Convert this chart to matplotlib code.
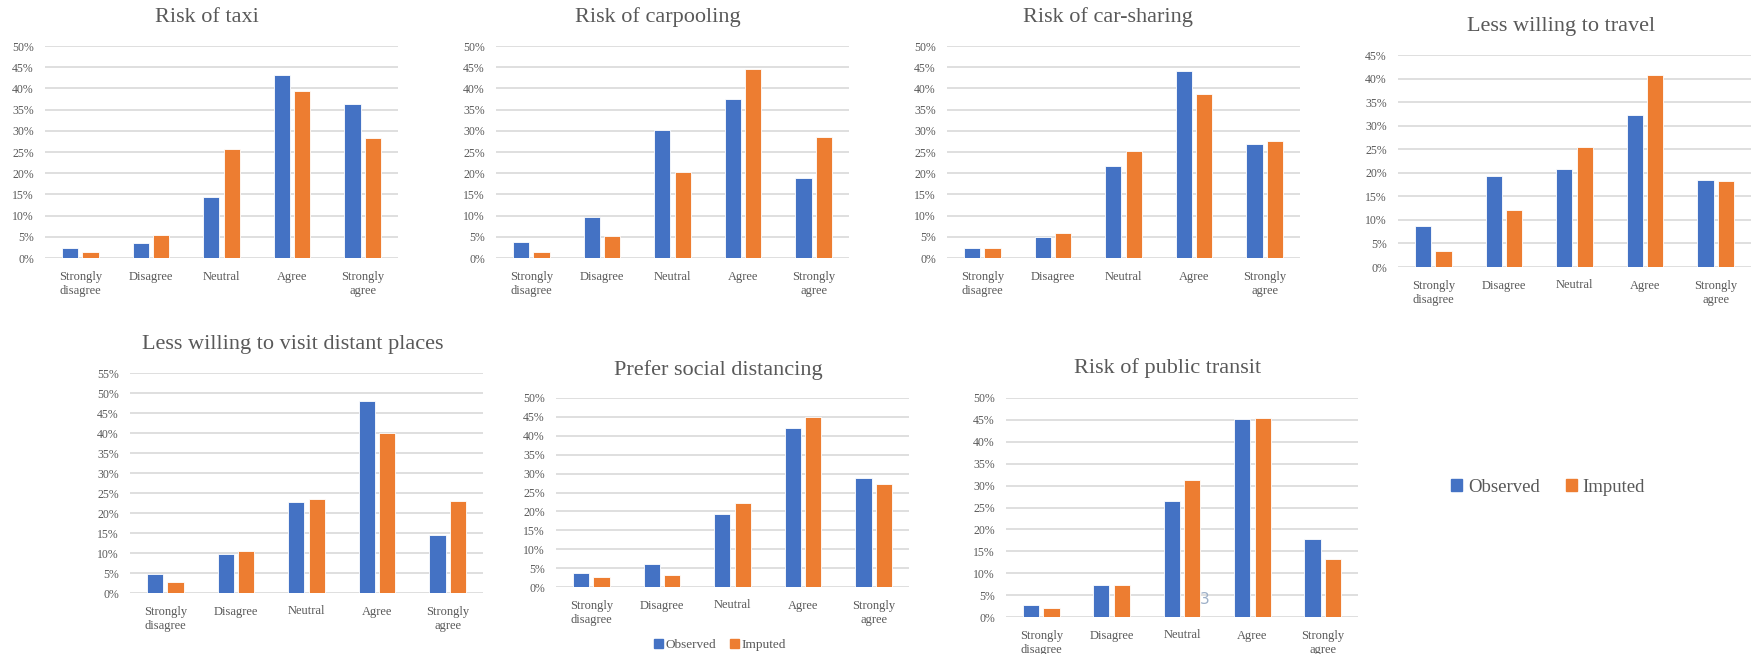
import matplotlib.pyplot as plt
import numpy as np
from matplotlib.ticker import FuncFormatter, MultipleLocator

plt.rcParams['font.family'] = ['Liberation Serif', 'DejaVu Serif']

categories = ['Strongly\ndisagree', 'Disagree', 'Neutral', 'Agree', 'Strongly\nagree']
series_names = ['Observed', 'Imputed']

taxi_obs = [2.4, 3.5, 14.3, 43.2, 36.4]
taxi_imp = [1.4, 5.4, 25.7, 39.4, 28.3]

carpool_obs = [3.7, 9.7, 30.2, 37.5, 18.8]
carpool_imp = [1.3, 5.2, 20.3, 44.6, 28.6]

carshare_obs = [2.4, 5.0, 21.7, 44.1, 26.9]
carshare_imp = [2.4, 6.0, 25.3, 38.6, 27.6]

travel_obs = [8.8, 19.4, 20.7, 32.3, 18.4]
travel_imp = [3.3, 12.0, 25.4, 40.7, 18.2]

distant_obs = [4.7, 9.7, 22.8, 48.1, 14.4]
distant_imp = [2.7, 10.4, 23.5, 40.0, 23.0]

social_obs = [3.8, 6.2, 19.2, 42.0, 28.9]
social_imp = [2.6, 3.3, 22.1, 45.1, 27.2]

transit_obs = [2.7, 7.4, 26.4, 45.1, 17.9]
transit_imp = [2.1, 7.3, 31.3, 45.4, 13.3]

BLUE = '#4472C4'
ORANGE = '#ED7D31'
GREY = '#595959'
GRID = '#D9D9D9'

W, H = 1754, 654
fig = plt.figure(figsize=(W / 100, H / 100), dpi=100)


def make_ax(left, right, top, bottom):
    return fig.add_axes([left / W, 1 - bottom / H, (right - left) / W, (bottom - top) / H])


def draw(ax, obs, imp, ymax, title, tx, ty):
    x = np.arange(len(categories))
    ax.bar(x - 0.145, obs, 0.23, color=BLUE, edgecolor='white', linewidth=0.6, zorder=3)
    ax.bar(x + 0.145, imp, 0.23, color=ORANGE, edgecolor='white', linewidth=0.6, zorder=3)
    ax.set_xlim(-0.5, len(categories) - 0.5)
    ax.set_ylim(0, ymax)
    ax.yaxis.set_major_locator(MultipleLocator(5))
    ax.yaxis.set_major_formatter(FuncFormatter(lambda v, p: '%d%%' % round(v)))
    ax.grid(axis='y', color=GRID, linewidth=1.2, zorder=0)
    for s in ax.spines.values():
        s.set_visible(False)
    ax.set_xticks(x)
    ax.set_xticklabels(categories, fontsize=9, color=GREY, linespacing=1.25)
    ax.tick_params(axis='both', length=0, colors=GREY, labelsize=8.5)
    ax.tick_params(axis='x', pad=9, labelsize=9)
    ax.tick_params(axis='y', pad=8)
    fig.text(tx / W, 1 - ty / H, title, ha='center', va='center', fontsize=16, color=GREY)


draw(make_ax(45, 398, 46, 258), taxi_obs, taxi_imp, 50, 'Risk of taxi', 207, 17)
draw(make_ax(496, 849, 46, 258), carpool_obs, carpool_imp, 50, 'Risk of carpooling', 658, 17)
draw(make_ax(947, 1300, 46, 258), carshare_obs, carshare_imp, 50, 'Risk of car-sharing', 1108, 17)
draw(make_ax(1398, 1751, 55, 267), travel_obs, travel_imp, 45, 'Less willing to travel', 1561, 27)
draw(make_ax(130, 483, 373, 593), distant_obs, distant_imp, 55, 'Less willing to visit distant places', 293, 345)
ax6 = make_ax(556, 909, 398, 587)
draw(ax6, social_obs, social_imp, 50, 'Prefer social distancing', 718, 370)
draw(make_ax(1006, 1358, 398, 617), transit_obs, transit_imp, 50, 'Risk of public transit', 1168, 368)

# small legend under "Prefer social distancing"
h1 = plt.Rectangle((0, 0), 1, 1, color=BLUE)
h2 = plt.Rectangle((0, 0), 1, 1, color=ORANGE)
fig.legend([h1, h2], series_names, loc='center', bbox_to_anchor=(720 / W, 1 - 645 / H),
           ncol=2, frameon=False, fontsize=9.5, labelcolor=GREY, handlelength=0.7,
           handleheight=0.7, handletextpad=0.2, columnspacing=1.0)

# big shared legend on the right
fig.legend([h1, h2], series_names, loc='center', bbox_to_anchor=(1548 / W, 1 - 487 / H),
           ncol=2, frameon=False, fontsize=13.5, labelcolor=GREY, handlelength=0.6,
           handleheight=0.6, handletextpad=0.3, columnspacing=1.4)

# page number in the source slide
fig.text(1205 / W, 1 - 599 / H, '3', ha='center', va='center', fontsize=11,
         color='#9DAFC7', family='DejaVu Sans')

fig.savefig('out.png', dpi=100, facecolor='white')
